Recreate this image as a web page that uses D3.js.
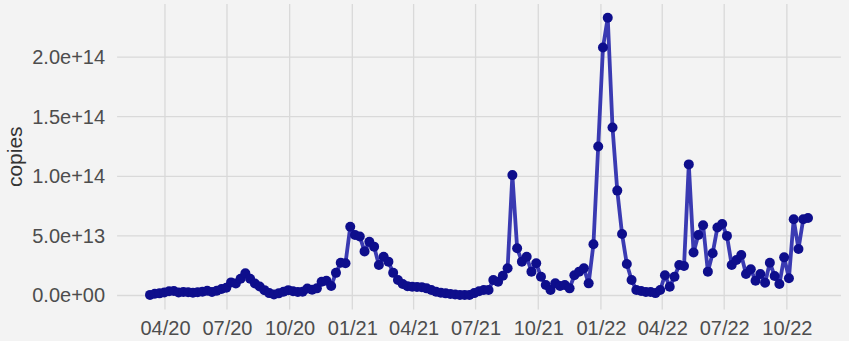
<!DOCTYPE html>
<html>
<head>
<meta charset="utf-8">
<script src="https://cdn.jsdelivr.net/npm/d3@7"></script>
<style>
  html, body { margin: 0; padding: 0; background: #f3f3f3; }
  svg { display: block; font-family: "Liberation Sans", Arial, sans-serif; }
</style>
</head>
<body>
<svg id="chart" width="849" height="341"></svg>
<script>
// Weekly sampling: first sample date and number of weeks
const firstSample = "2020-03-10";
const weekCount = 139;

// Measured copies per week, in units of 1e12
const copiesE12 = [
  0.5, 1.5, 1.8, 2.5, 3.5, 3.8, 2.5, 3.0, 2.8, 2.3,
  2.8, 3.2, 4.0, 3.0, 4.0, 5.5, 6.5, 11.0, 10.0, 14.0,
  18.6, 14.0, 10.0, 7.5, 4.5, 2.0, 0.8, 1.8, 3.2, 4.5,
  3.5, 3.0, 3.2, 5.8, 4.8, 6.0, 11.6, 12.4, 8.0, 19.0,
  27.5, 27.0, 57.7, 50.7, 49.5, 37.0, 45.0, 41.0, 25.6, 32.5,
  28.4, 19.0, 13.0, 9.6, 7.8, 7.4, 7.2, 7.0, 6.0, 4.6,
  3.2, 2.3, 1.8, 1.2, 0.8, 0.5, 0.4, 0.4, 2.0, 3.5,
  4.6, 4.6, 13.0, 11.6, 16.5, 22.8, 101.0, 39.6, 28.4, 32.5,
  20.0, 27.0, 15.8, 8.8, 4.6, 10.2, 8.0, 8.8, 6.0, 17.0,
  20.0, 22.8, 10.2, 43.0, 125.0, 208.0, 233.0, 141.0, 88.0, 51.6,
  26.4, 13.0, 4.6, 3.8, 3.0, 3.0, 2.0, 4.6, 17.0, 7.4,
  15.8, 25.6, 24.7, 110.0, 36.0, 50.7, 59.0, 20.0, 35.4, 57.0,
  60.0, 50.0, 25.6, 29.8, 34.0, 18.0, 22.0, 12.4, 18.0, 10.7,
  27.5, 16.4, 9.6, 32.0, 14.4, 64.0, 39.0, 64.0, 65.0
];

// Y axis tick values
const yTicks = [0, 5e13, 1e14, 1.5e14, 2e14];
const yTickLabels = ["0.0e+00", "5.0e+13", "1.0e+14", "1.5e+14", "2.0e+14"];
const yTitle = "copies";

const parse = d3.utcParse("%Y-%m-%d");
const start = parse(firstSample);
const data = d3.range(weekCount).map(i => ({
  date: d3.utcDay.offset(start, 7 * i),
  value: copiesE12[i] * 1e12
}));

const svg = d3.select("#chart");

// Panel bounds (data range padded by 5% on each side)
const xr = [150, 808];
const yr = [295.5, 57.1];
const padX = (xr[1] - xr[0]) * 0.05;
const panel = { left: xr[0] - padX, right: xr[1] + padX, top: 4, bottom: 309.5 };

const x = d3.scaleUtc()
  .domain(d3.extent(data, d => d.date))
  .range(xr);
const y = d3.scaleLinear()
  .domain([0, 2e14])
  .range(yr);

// Grid lines
const xTicks = d3.utcMonth.every(3).range(d3.utcMonth.ceil(data[0].date), data[data.length - 1].date);
const grid = svg.append("g").attr("stroke", "#d9d9d9").attr("stroke-width", 1.3);
grid.selectAll(".gy").data(yTicks).join("line")
  .attr("x1", panel.left).attr("x2", panel.right)
  .attr("y1", d => y(d)).attr("y2", d => y(d));
grid.selectAll(".gx").data(xTicks).join("line")
  .attr("x1", d => x(d)).attr("x2", d => x(d))
  .attr("y1", panel.top).attr("y2", panel.bottom);

// Y axis labels
const yAxis = d3.axisLeft(y).tickValues(yTicks)
  .tickFormat((d, i) => yTickLabels[i]).tickSize(0).tickPadding(0);
const gy = svg.append("g").attr("transform", `translate(${panel.left - 12},0)`).call(yAxis);
gy.select(".domain").remove();
gy.selectAll("text").attr("font-size", 20).attr("fill", "#4d4d4d")
  .attr("font-family", "Liberation Sans, Arial, sans-serif");

// X axis labels
const xAxis = d3.axisBottom(x).tickValues(xTicks)
  .tickFormat(d3.utcFormat("%m/%y")).tickSize(0).tickPadding(0);
const gx = svg.append("g").attr("transform", `translate(0,${panel.bottom + 11})`).call(xAxis);
gx.select(".domain").remove();
gx.selectAll("text").attr("font-size", 20).attr("fill", "#4d4d4d")
  .attr("font-family", "Liberation Sans, Arial, sans-serif");

// Y axis title
svg.append("text")
  .attr("transform", `translate(22,${(panel.top + panel.bottom) / 2}) rotate(-90)`)
  .attr("text-anchor", "middle")
  .attr("font-size", 21).attr("fill", "#333333")
  .text(yTitle);

// Series line
const line = d3.line().x(d => x(d.date)).y(d => y(d.value));
svg.append("path").datum(data)
  .attr("d", line)
  .attr("fill", "none")
  .attr("stroke", "#3a3ab2")
  .attr("stroke-width", 3.8)
  .attr("stroke-linejoin", "round");

// Points
svg.append("g").selectAll("circle").data(data).join("circle")
  .attr("cx", d => x(d.date)).attr("cy", d => y(d.value))
  .attr("r", 5)
  .attr("fill", "#0e0e8c");
</script>
</body>
</html>
